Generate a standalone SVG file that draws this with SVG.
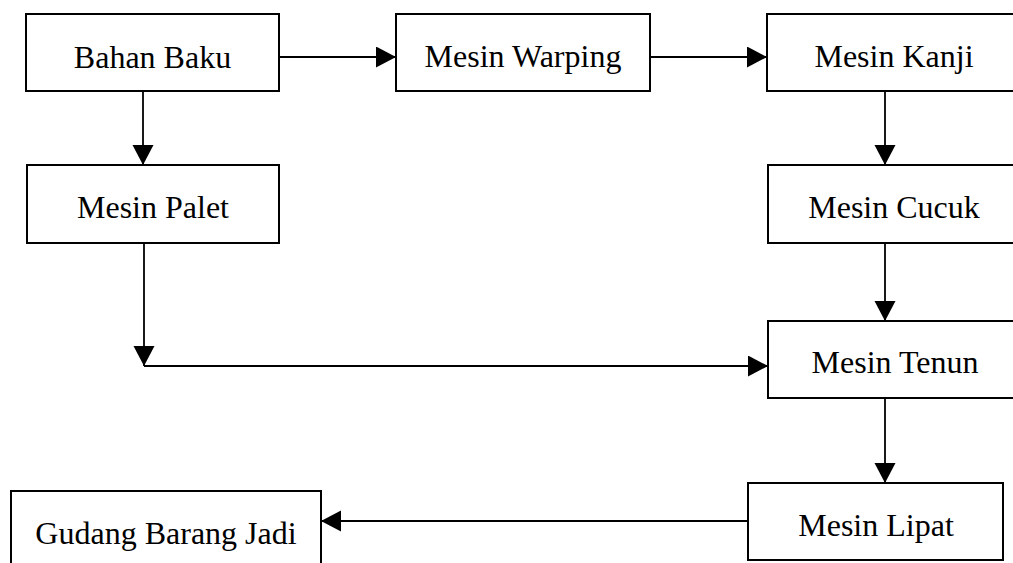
<svg xmlns="http://www.w3.org/2000/svg" width="1013" height="563" viewBox="0 0 1013 563">
<style>
.box{fill:#fff;stroke:#000;stroke-width:2}
.lbl{font-family:"Liberation Serif","Times New Roman",serif;font-size:32px;fill:#000;text-anchor:middle}
.con{fill:none;stroke:#000;stroke-width:1.8}
</style>
<defs>
<marker id="arr" markerUnits="userSpaceOnUse" markerWidth="22" markerHeight="22" refX="20" refY="10.5" orient="auto">
<path d="M0,0 L20,10.5 L0,21 Z" fill="#000"/>
</marker>
</defs>
<rect width="1013" height="563" fill="#fff"/>
<g id="connectors">
<line class="con" x1="279" y1="57" x2="396" y2="57" marker-end="url(#arr)"/>
<line class="con" x1="650" y1="57" x2="767" y2="57" marker-end="url(#arr)"/>
<line class="con" x1="143" y1="91" x2="143" y2="165" marker-end="url(#arr)"/>
<line class="con" x1="885" y1="91" x2="885" y2="165" marker-end="url(#arr)"/>
<line class="con" x1="144" y1="243" x2="144" y2="366" marker-end="url(#arr)"/>
<line class="con" x1="144" y1="366" x2="768" y2="366" marker-end="url(#arr)"/>
<line class="con" x1="885" y1="243" x2="885" y2="321" marker-end="url(#arr)"/>
<line class="con" x1="885" y1="398" x2="885" y2="483" marker-end="url(#arr)"/>
<line class="con" x1="748" y1="521" x2="321" y2="521" marker-end="url(#arr)"/>
</g>
<g id="bahan-baku"><rect class="box" x="26" y="14" width="253" height="77"/><text class="lbl" x="152.5" y="68">Bahan Baku</text></g>
<g id="mesin-warping"><rect class="box" x="396" y="14" width="254" height="77"/><text class="lbl" x="523" y="67">Mesin Warping</text></g>
<g id="mesin-kanji"><rect class="box" x="767" y="14" width="254" height="77"/><text class="lbl" x="894" y="67">Mesin Kanji</text></g>
<g id="mesin-palet"><rect class="box" x="27" y="165" width="252" height="78"/><text class="lbl" x="153" y="218">Mesin Palet</text></g>
<g id="mesin-cucuk"><rect class="box" x="768" y="165" width="253" height="78"/><text class="lbl" x="894" y="218">Mesin Cucuk</text></g>
<g id="mesin-tenun"><rect class="box" x="768" y="321" width="253" height="77"/><text class="lbl" x="895" y="373">Mesin Tenun</text></g>
<g id="mesin-lipat"><rect class="box" x="748" y="483" width="255" height="77"/><text class="lbl" x="876" y="536">Mesin Lipat</text></g>
<g id="gudang-barang-jadi"><rect class="box" x="11" y="491" width="310" height="80"/><text class="lbl" x="166" y="544">Gudang Barang Jadi</text></g>
</svg>
